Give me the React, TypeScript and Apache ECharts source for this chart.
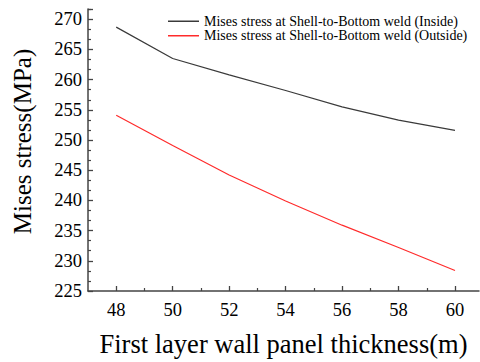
import React, { useEffect, useRef } from "react";
import * as echarts from "echarts";

const thickness = [48, 50, 52, 54, 56, 58, 60];
const insideStress = [268.7, 263.5, 260.8, 258.2, 255.5, 253.3, 251.6];
const outsideStress = [254.1, 249.1, 244.2, 239.9, 235.9, 232.2, 228.4];
const xMajorTicks = [48, 50, 52, 54, 56, 58, 60];
const xMinorTicks = [49, 51, 53, 55, 57, 59];
const seriesNames = [
  "Mises stress at Shell-to-Bottom weld (Inside)",
  "Mises stress at Shell-to-Bottom weld (Outside)",
];
const xTitle = "First layer wall panel thickness(m)";
const yTitle = "Mises stress(MPa)";

const FONT = "Liberation Serif";

export default function App() {
  const ref = useRef<HTMLDivElement>(null);
  useEffect(() => {
    if (!ref.current) return;
    const chart = echarts.init(ref.current, null, { renderer: "svg" });
    const axisLine = { show: true, lineStyle: { color: "#444", width: 1.5 } };
    chart.setOption({
      animation: false,
      backgroundColor: "#fff",
      textStyle: { fontFamily: FONT, color: "#000" },
      grid: { left: 88, right: 1, top: 9, bottom: 66, containLabel: false },
      legend: {
        orient: "vertical",
        left: 163,
        top: 9,
        itemWidth: 31,
        itemHeight: 1.5,
        icon: "rect",
        itemGap: 0,
        data: seriesNames,
        textStyle: { fontFamily: FONT, fontSize: 14, color: "#000", lineHeight: 14.5 },
      },
      graphic: [
        {
          type: "text",
          x: 22.5,
          y: 141.5,
          rotation: Math.PI / 2,
          style: {
            text: yTitle,
            fontFamily: FONT,
            fontSize: 25,
            fill: "#000",
            textAlign: "center",
            textVerticalAlign: "middle",
          },
        },
      ],
      xAxis: [
        {
          type: "value",
          min: 47,
          max: 60.85,
          position: "bottom",
          axisLine,
          splitLine: { show: false },
          axisTick: {
            show: true,
            inside: true,
            length: 5,
            customValues: xMajorTicks,
            lineStyle: { color: "#444", width: 1.3 },
          },
          axisLabel: {
            show: true,
            customValues: xMajorTicks,
            fontFamily: FONT,
            fontSize: 18.5,
            color: "#000",
            margin: 9,
          },
          name: xTitle,
          nameLocation: "middle",
          nameGap: 39,
          nameTextStyle: { fontFamily: FONT, fontSize: 26.5, color: "#000" },
        },
        {
          type: "value",
          min: 47,
          max: 60.85,
          position: "bottom",
          axisLine: { show: false },
          splitLine: { show: false },
          axisTick: {
            show: true,
            inside: true,
            length: 3,
            customValues: xMinorTicks,
            lineStyle: { color: "#444", width: 1.2 },
          },
          axisLabel: { show: false },
        },
      ],
      yAxis: [
        {
          type: "value",
          min: 225,
          max: 271.7,
          interval: 5,
          axisLine,
          splitLine: { show: false },
          axisTick: {
            show: true,
            inside: true,
            length: 5,
            lineStyle: { color: "#444", width: 1.3 },
          },
          minorTick: {
            show: true,
            splitNumber: 3,
            length: 3,
            lineStyle: { color: "#444", width: 1.2 },
          },
          axisLabel: {
            show: true,
            showMaxLabel: false,
            fontFamily: FONT,
            fontSize: 18.5,
            color: "#000",
            margin: 6,
          },
        },
      ],
      series: [
        {
          name: seriesNames[0],
          type: "line",
          symbol: "none",
          data: thickness.map((x, i) => [x, insideStress[i]]),
          lineStyle: { color: "#3a3a3a", width: 1.2 },
          itemStyle: { color: "#3a3a3a" },
        },
        {
          name: seriesNames[1],
          type: "line",
          symbol: "none",
          data: thickness.map((x, i) => [x, outsideStress[i]]),
          lineStyle: { color: "#ff2b2b", width: 1.2 },
          itemStyle: { color: "#ff2b2b" },
        },
      ],
    });
    return () => chart.dispose();
  }, []);
  return <div ref={ref} style={{ width: 480, height: 362, position: "absolute", left: 0, top: 0 }} />;
}
